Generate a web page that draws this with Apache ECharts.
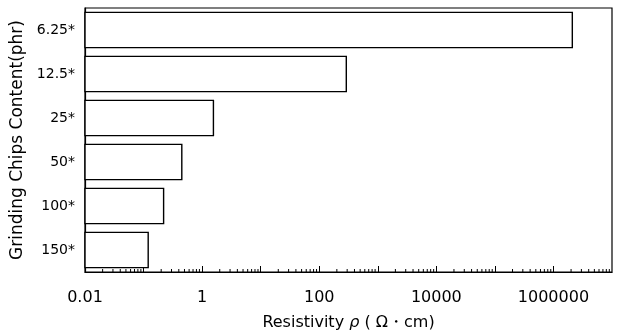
<!DOCTYPE html>
<html>
<head>
<meta charset="utf-8">
<script src="https://cdn.jsdelivr.net/npm/echarts@6/dist/echarts.min.js"></script>
<style>
  html, body { margin: 0; padding: 0; background: #fff; }
  #chart { width: 619px; height: 336px; }
</style>
</head>
<body>
<div id="chart"></div>
<script>
// 分类（从上到下）
const categories = ['6.25*', '12.5*', '25*', '50*', '100*', '150*'];
// 电阻率 ρ (Ω·cm)
const resistivity = [2100000, 290, 1.56, 0.45, 0.22, 0.12];
// 横轴显示的刻度标签
const tickLabels = ['0.01', '1', '100', '10000', '1000000'];
// 对数轴每个十倍程的起点，和次刻度倍数
const decades = [0.01, 0.1, 1, 10, 100, 1000, 10000, 100000, 1000000];
const minorSteps = [2, 3, 4, 5, 6, 7, 8, 9];

const axisMin = 0.01;
const axisMax = 10000000;
const font = '"DejaVu Sans", sans-serif';

const fmt = (v) => {
  const e = Math.round(Math.log10(v));
  return e < 0 ? Math.pow(10, e).toFixed(-e) : String(Math.pow(10, e));
};

const minorTicks = [];
decades.forEach((d) => minorSteps.forEach((k) => minorTicks.push([d * k, 0])));

const chart = echarts.init(document.getElementById('chart'));
const option = {
  backgroundColor: '#fff',
  animation: false,
  grid: {
    left: 85,
    right: 7,
    top: 8,
    bottom: 64,
    outerBoundsMode: 'none',
    show: true,
    borderColor: '#000',
    borderWidth: 1.2,
  },
  xAxis: {
    type: 'log',
    logBase: 10,
    min: axisMin,
    max: axisMax,
    name: 'Resistivity {i|ρ} ( Ω・cm)',
    nameLocation: 'middle',
    nameGap: 43,
    nameTextStyle: {
      color: '#000',
      fontSize: 16,
      fontFamily: font,
      rich: {
        i: { fontStyle: 'italic', fontSize: 16, fontFamily: font, color: '#000' },
      },
    },
    axisLine: { show: true, lineStyle: { color: '#000', width: 1.2 } },
    axisTick: { show: true, inside: true, length: 6, lineStyle: { color: '#000' } },
    splitLine: { show: false },
    axisLabel: {
      color: '#000',
      fontSize: 16,
      fontFamily: font,
      margin: 18,
      showMaxLabel: false,
      formatter: (v) => {
        const s = fmt(v);
        return tickLabels.indexOf(s) >= 0 ? s : '';
      },
    },
  },
  yAxis: {
    type: 'category',
    data: categories,
    inverse: true,
    name: 'Grinding Chips Content(phr)',
    nameLocation: 'middle',
    nameGap: 56,
    nameTextStyle: { color: '#000', fontSize: 17, fontFamily: font },
    axisLine: { show: true, lineStyle: { color: '#000', width: 1.2 } },
    axisTick: { show: false },
    axisLabel: { color: '#000', fontSize: 14, fontFamily: font, margin: 10 },
  },
  series: [
    {
      type: 'custom',
      name: 'bars',
      data: resistivity.map((v, i) => [v, i]),
      encode: { x: 0, y: 1 },
      renderItem: (params, api) => {
        const start = api.coord([axisMin, api.value(1)]);
        const end = api.coord([api.value(0), api.value(1)]);
        const h = api.size([0, 1])[1] * 0.8;
        return {
          type: 'rect',
          shape: { x: start[0], y: start[1] - h / 2, width: end[0] - start[0], height: h },
          style: { fill: '#fff', stroke: '#000', lineWidth: 1.4 },
        };
      },
    },
    {
      type: 'custom',
      name: 'minorTicks',
      silent: true,
      data: minorTicks,
      encode: { x: 0, y: 1 },
      renderItem: (params, api) => {
        const x = api.coord([api.value(0), 0])[0];
        const bottom = params.coordSys.y + params.coordSys.height;
        return {
          type: 'line',
          shape: { x1: x, y1: bottom, x2: x, y2: bottom - 3 },
          style: { stroke: '#000', lineWidth: 1 },
        };
      },
    },
  ],
};
option && chart.setOption(option);
window.addEventListener('resize', () => chart.resize());
</script>
</body>
</html>
